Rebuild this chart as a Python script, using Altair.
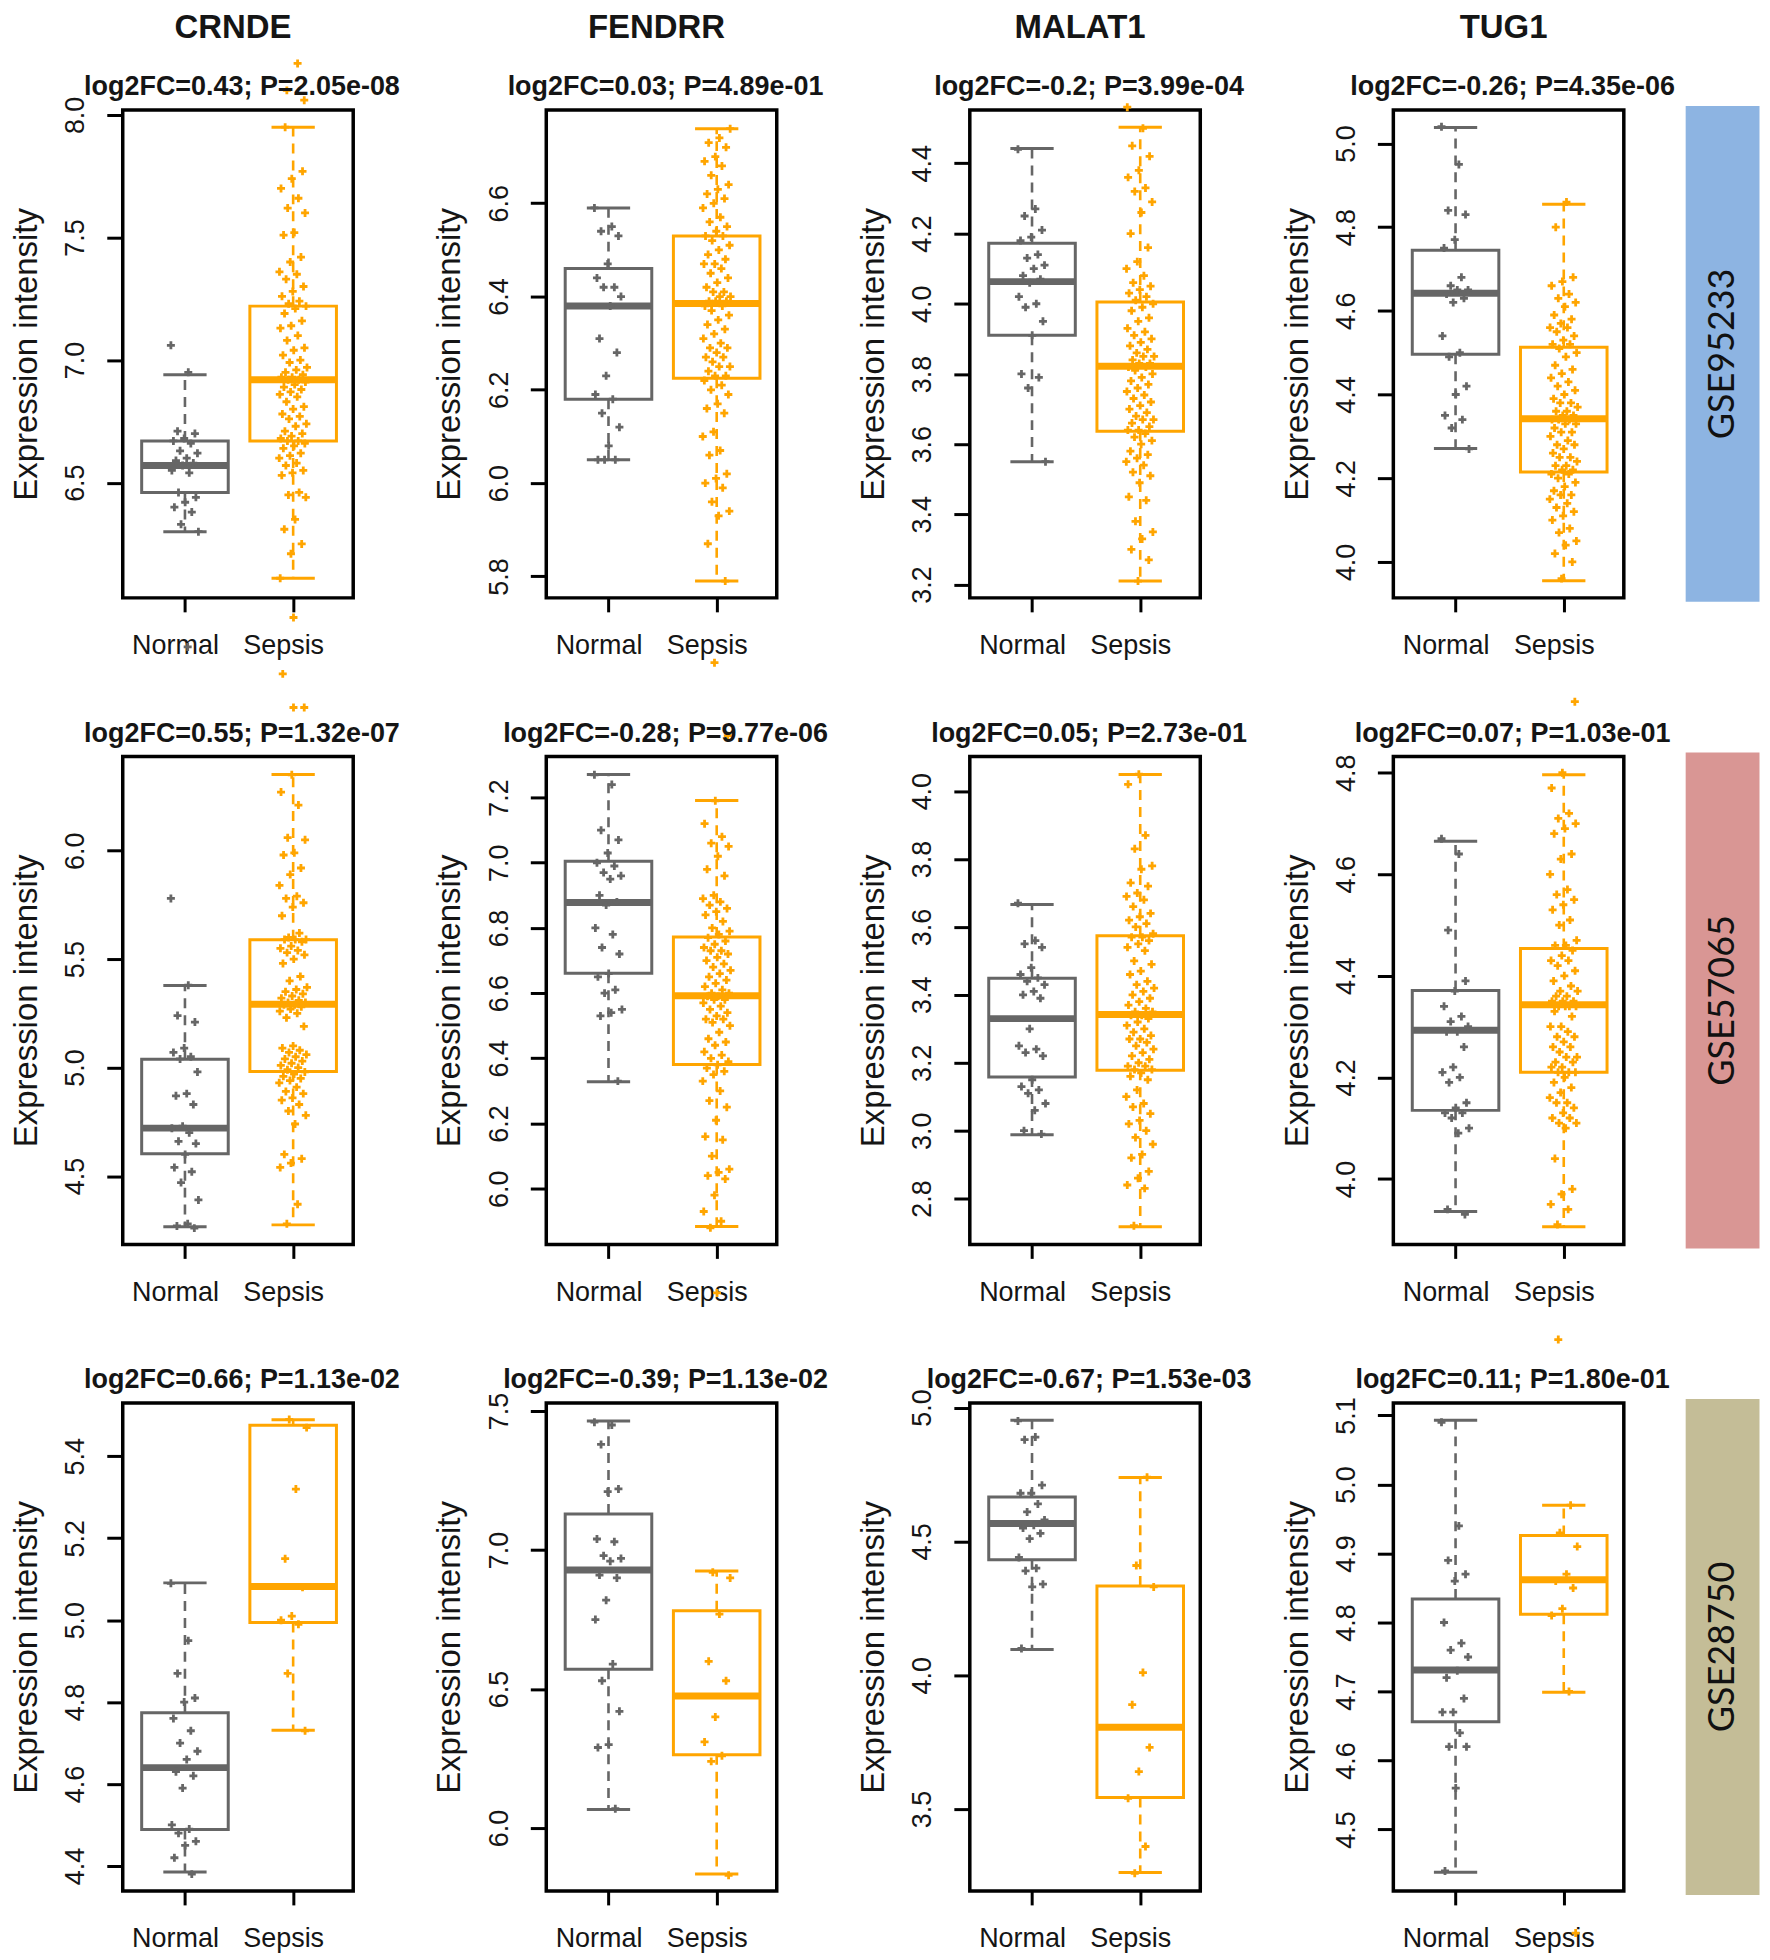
import altair as alt
import pandas as pd

genes = ["CRNDE", "FENDRR", "MALAT1", "TUG1"]
datasets = ["GSE95233", "GSE57065", "GSE28750"]
strip_colors = ["#8DB4E2", "#D99694", "#C4BD97"]
groups = ["Normal", "Sepsis"]
group_colors = ["#666666", "#FFA500"]

subtitles = [
    "log2FC=0.43; P=2.05e-08", "log2FC=0.03; P=4.89e-01", "log2FC=-0.2; P=3.99e-04", "log2FC=-0.26; P=4.35e-06",
    "log2FC=0.55; P=1.32e-07", "log2FC=-0.28; P=9.77e-06", "log2FC=0.05; P=2.73e-01", "log2FC=0.07; P=1.03e-01",
    "log2FC=0.66; P=1.13e-02", "log2FC=-0.39; P=1.13e-02", "log2FC=-0.67; P=1.53e-03", "log2FC=0.11; P=1.80e-01",
]

y_domains = [
    [6.03, 8.02], [5.754, 6.80], [3.162, 4.552], [3.914, 5.08],
    [4.185, 6.434], [5.829, 7.326], [2.665, 4.102], [3.871, 4.832],
    [4.339, 5.530], [5.774, 7.529], [3.194, 5.017], [4.411, 5.118],
]

y_ticks = [
    [6.5, 7.0, 7.5, 8.0], [5.8, 6.0, 6.2, 6.4, 6.6], [3.2, 3.4, 3.6, 3.8, 4.0, 4.2, 4.4], [4.0, 4.2, 4.4, 4.6, 4.8, 5.0],
    [4.5, 5.0, 5.5, 6.0], [6.0, 6.2, 6.4, 6.6, 6.8, 7.0, 7.2], [2.8, 3.0, 3.2, 3.4, 3.6, 3.8, 4.0], [4.0, 4.2, 4.4, 4.6, 4.8],
    [4.4, 4.6, 4.8, 5.0, 5.2, 5.4], [6.0, 6.5, 7.0, 7.5], [3.5, 4.0, 4.5, 5.0], [4.5, 4.6, 4.7, 4.8, 4.9, 5.0, 5.1],
]

# box statistics: [lower whisker, Q1, median, Q3, upper whisker]
normal_box = [
    [6.30, 6.46, 6.57, 6.67, 6.94], [6.05, 6.18, 6.38, 6.46, 6.59], [3.55, 3.91, 4.063, 4.172, 4.442], [4.271, 4.496, 4.642, 4.745, 5.038],
    [4.266, 4.603, 4.721, 5.039, 5.378], [6.328, 6.661, 6.878, 7.005, 7.271], [2.988, 3.158, 3.330, 3.449, 3.666], [3.936, 4.135, 4.293, 4.371, 4.665],
    [4.385, 4.489, 4.640, 4.774, 5.091], [6.067, 6.571, 6.928, 7.130, 7.464], [4.096, 4.431, 4.567, 4.666, 4.953], [4.438, 4.656, 4.731, 4.834, 5.093],
]
sepsis_box = [
    [6.11, 6.67, 6.92, 7.22, 7.95], [5.79, 6.225, 6.385, 6.53, 6.76], [3.21, 3.637, 3.822, 4.005, 4.503], [3.955, 4.215, 4.342, 4.513, 4.855],
    [4.275, 4.982, 5.292, 5.589, 6.351], [5.884, 6.381, 6.592, 6.772, 7.191], [2.717, 3.178, 3.342, 3.574, 4.049], [3.906, 4.210, 4.343, 4.454, 4.796],
    [4.731, 4.994, 5.082, 5.476, 5.489], [5.835, 6.264, 6.475, 6.782, 6.925], [3.263, 3.543, 3.806, 4.333, 4.739], [4.699, 4.812, 4.862, 4.926, 4.970],
]

normal_points = [
    [7.06, 6.95, 6.71, 6.70, 6.68, 6.67, 6.66, 6.63, 6.62, 6.60, 6.59, 6.58, 6.57, 6.55, 6.54, 6.46, 6.44, 6.42, 6.40, 6.38, 6.33, 6.30, 5.83],
    [6.59, 6.55, 6.54, 6.53, 6.47, 6.44, 6.42, 6.42, 6.40, 6.38, 6.31, 6.28, 6.23, 6.19, 6.18, 6.15, 6.12, 6.08, 6.05, 6.05, 6.05],
    [4.44, 4.27, 4.25, 4.21, 4.19, 4.18, 4.14, 4.13, 4.11, 4.10, 4.08, 4.07, 4.06, 4.02, 4.00, 3.99, 3.95, 3.91, 3.80, 3.79, 3.76, 3.55],
    [5.04, 4.95, 4.84, 4.83, 4.77, 4.75, 4.68, 4.66, 4.65, 4.65, 4.64, 4.63, 4.62, 4.54, 4.50, 4.49, 4.42, 4.40, 4.35, 4.34, 4.32, 4.27],
    [5.78, 5.38, 5.24, 5.21, 5.09, 5.07, 5.05, 5.04, 4.98, 4.88, 4.87, 4.83, 4.73, 4.72, 4.70, 4.66, 4.65, 4.60, 4.54, 4.52, 4.47, 4.39, 4.28, 4.27, 4.26],
    [7.27, 7.24, 7.10, 7.07, 7.03, 7.00, 6.99, 6.97, 6.96, 6.95, 6.90, 6.88, 6.87, 6.80, 6.78, 6.74, 6.72, 6.66, 6.65, 6.61, 6.60, 6.55, 6.54, 6.53, 6.33],
    [3.67, 3.56, 3.55, 3.54, 3.48, 3.46, 3.45, 3.44, 3.43, 3.41, 3.40, 3.39, 3.30, 3.25, 3.24, 3.23, 3.22, 3.15, 3.13, 3.12, 3.11, 3.08, 3.06, 3.00, 2.99],
    [4.67, 4.64, 4.49, 4.39, 4.37, 4.34, 4.32, 4.31, 4.30, 4.29, 4.29, 4.26, 4.22, 4.21, 4.20, 4.19, 4.15, 4.14, 4.13, 4.13, 4.12, 4.10, 4.09, 3.94, 3.93],
    [5.09, 4.95, 4.87, 4.81, 4.80, 4.76, 4.73, 4.70, 4.68, 4.66, 4.63, 4.62, 4.59, 4.50, 4.49, 4.48, 4.46, 4.45, 4.42, 4.38],
    [7.46, 7.45, 7.38, 7.22, 7.21, 7.04, 7.03, 6.98, 6.97, 6.96, 6.91, 6.90, 6.82, 6.75, 6.59, 6.53, 6.42, 6.30, 6.29, 6.07],
    [4.95, 4.89, 4.88, 4.71, 4.68, 4.68, 4.64, 4.61, 4.58, 4.56, 4.55, 4.53, 4.51, 4.44, 4.40, 4.39, 4.34, 4.33, 4.10],
    [5.09, 4.94, 4.89, 4.87, 4.86, 4.80, 4.77, 4.76, 4.75, 4.73, 4.72, 4.69, 4.67, 4.67, 4.64, 4.62, 4.62, 4.56, 4.44],
]

sepsis_points = [
    [7.95, 7.77, 7.74, 7.70, 7.66, 7.62, 7.60, 7.52, 7.51, 7.42, 7.40, 7.36, 7.35, 7.33, 7.30, 7.28, 7.26, 7.24, 7.23, 7.22,
     7.21, 7.19, 7.16, 7.14, 7.13, 7.10, 7.08, 7.05, 7.04, 7.02, 7.00, 6.99, 6.97, 6.96, 6.95, 6.94, 6.93, 6.93, 6.92, 6.92,
     6.91, 6.90, 6.89, 6.88, 6.87, 6.86, 6.85, 6.83, 6.81, 6.80, 6.78, 6.77, 6.76, 6.74, 6.73, 6.71, 6.70, 6.69, 6.68, 6.67,
     6.67, 6.66, 6.65, 6.64, 6.62, 6.61, 6.60, 6.58, 6.57, 6.55, 6.54, 6.53, 6.46, 6.45, 6.44, 6.35, 6.31, 6.25, 6.21, 6.11,
     8.21, 8.10, 8.06, 5.95, 5.72],
    [6.76, 6.74, 6.73, 6.72, 6.70, 6.69, 6.68, 6.66, 6.64, 6.63, 6.62, 6.61, 6.60, 6.59, 6.57, 6.56, 6.55, 6.54, 6.53, 6.53,
     6.52, 6.51, 6.50, 6.49, 6.48, 6.47, 6.47, 6.46, 6.45, 6.44, 6.43, 6.42, 6.41, 6.41, 6.40, 6.40, 6.39, 6.39, 6.39, 6.38,
     6.38, 6.37, 6.36, 6.35, 6.34, 6.33, 6.32, 6.31, 6.30, 6.29, 6.29, 6.28, 6.27, 6.27, 6.26, 6.25, 6.25, 6.24, 6.23, 6.23,
     6.22, 6.21, 6.20, 6.19, 6.17, 6.16, 6.15, 6.11, 6.10, 6.07, 6.06, 6.02, 6.01, 6.00, 5.99, 5.96, 5.94, 5.93, 5.87, 5.79,
     5.615],
    [4.50, 4.45, 4.42, 4.38, 4.36, 4.33, 4.32, 4.29, 4.26, 4.20, 4.16, 4.12, 4.10, 4.08, 4.06, 4.05, 4.04, 4.03, 4.02, 4.01,
     4.00, 3.99, 3.98, 3.96, 3.95, 3.93, 3.92, 3.91, 3.90, 3.89, 3.88, 3.87, 3.86, 3.85, 3.85, 3.84, 3.83, 3.83, 3.82, 3.82,
     3.81, 3.80, 3.79, 3.78, 3.77, 3.76, 3.75, 3.74, 3.73, 3.72, 3.71, 3.70, 3.69, 3.68, 3.67, 3.67, 3.66, 3.65, 3.64, 3.64,
     3.63, 3.62, 3.61, 3.60, 3.58, 3.57, 3.56, 3.55, 3.54, 3.52, 3.51, 3.49, 3.45, 3.44, 3.38, 3.35, 3.33, 3.30, 3.27, 3.21,
     4.56],
    [4.86, 4.80, 4.68, 4.67, 4.66, 4.64, 4.63, 4.62, 4.61, 4.59, 4.58, 4.57, 4.56, 4.56, 4.55, 4.54, 4.53, 4.52, 4.52, 4.51,
     4.50, 4.49, 4.47, 4.46, 4.45, 4.44, 4.43, 4.42, 4.41, 4.40, 4.39, 4.38, 4.38, 4.37, 4.36, 4.36, 4.35, 4.35, 4.34, 4.34,
     4.34, 4.33, 4.33, 4.32, 4.31, 4.31, 4.30, 4.29, 4.28, 4.28, 4.27, 4.26, 4.25, 4.25, 4.24, 4.23, 4.23, 4.22, 4.22, 4.21,
     4.21, 4.20, 4.19, 4.18, 4.17, 4.16, 4.16, 4.15, 4.14, 4.13, 4.12, 4.11, 4.10, 4.08, 4.07, 4.05, 4.04, 4.02, 4.00, 3.96],
    [6.35, 6.27, 6.21, 6.06, 6.05, 5.99, 5.98, 5.92, 5.89, 5.84, 5.79, 5.78, 5.76, 5.74, 5.70, 5.62, 5.60, 5.59, 5.59, 5.59,
     5.58, 5.56, 5.55, 5.54, 5.53, 5.52, 5.50, 5.48, 5.42, 5.40, 5.37, 5.36, 5.35, 5.34, 5.33, 5.32, 5.31, 5.30, 5.30, 5.29,
     5.29, 5.28, 5.27, 5.26, 5.25, 5.23, 5.19, 5.10, 5.09, 5.08, 5.07, 5.06, 5.05, 5.04, 5.03, 5.02, 5.01, 5.00, 4.99, 4.98,
     4.97, 4.96, 4.95, 4.94, 4.93, 4.91, 4.89, 4.88, 4.86, 4.85, 4.83, 4.80, 4.78, 4.74, 4.60, 4.58, 4.56, 4.54, 4.37, 4.28,
     6.66, 6.66],
    [7.19, 7.12, 7.08, 7.06, 7.05, 7.02, 6.98, 6.96, 6.90, 6.89, 6.88, 6.87, 6.86, 6.85, 6.84, 6.82, 6.80, 6.79, 6.78, 6.77,
     6.76, 6.75, 6.74, 6.73, 6.73, 6.72, 6.71, 6.70, 6.69, 6.68, 6.67, 6.66, 6.65, 6.64, 6.63, 6.62, 6.61, 6.60, 6.60, 6.59,
     6.59, 6.58, 6.58, 6.57, 6.56, 6.55, 6.54, 6.53, 6.52, 6.52, 6.51, 6.50, 6.48, 6.46, 6.45, 6.44, 6.42, 6.41, 6.40, 6.39,
     6.38, 6.37, 6.36, 6.35, 6.33, 6.30, 6.27, 6.25, 6.21, 6.16, 6.15, 6.10, 6.06, 6.05, 6.04, 6.03, 5.98, 5.93, 5.90, 5.88,
     7.39, 5.68],
    [4.05, 4.02, 3.87, 3.83, 3.78, 3.77, 3.73, 3.72, 3.70, 3.69, 3.68, 3.66, 3.64, 3.63, 3.62, 3.61, 3.60, 3.58, 3.57, 3.57,
     3.56, 3.55, 3.54, 3.53, 3.50, 3.49, 3.47, 3.46, 3.44, 3.43, 3.42, 3.41, 3.40, 3.39, 3.38, 3.37, 3.36, 3.35, 3.35, 3.34,
     3.34, 3.33, 3.32, 3.31, 3.30, 3.29, 3.28, 3.27, 3.27, 3.26, 3.25, 3.24, 3.23, 3.22, 3.21, 3.20, 3.19, 3.19, 3.18, 3.18,
     3.17, 3.16, 3.15, 3.12, 3.10, 3.08, 3.07, 3.05, 3.03, 3.02, 3.00, 2.98, 2.96, 2.93, 2.92, 2.88, 2.86, 2.84, 2.83, 2.72],
    [4.80, 4.77, 4.72, 4.71, 4.70, 4.69, 4.68, 4.64, 4.63, 4.60, 4.57, 4.56, 4.55, 4.54, 4.53, 4.51, 4.50, 4.47, 4.46, 4.46,
     4.45, 4.44, 4.43, 4.43, 4.42, 4.41, 4.40, 4.39, 4.38, 4.37, 4.37, 4.36, 4.36, 4.35, 4.35, 4.35, 4.34, 4.34, 4.34, 4.34,
     4.33, 4.32, 4.30, 4.30, 4.29, 4.28, 4.28, 4.27, 4.26, 4.26, 4.25, 4.24, 4.24, 4.23, 4.23, 4.22, 4.22, 4.21, 4.21, 4.21,
     4.20, 4.19, 4.18, 4.17, 4.16, 4.15, 4.15, 4.14, 4.13, 4.12, 4.12, 4.11, 4.11, 4.10, 4.04, 3.98, 3.97, 3.95, 3.94, 3.91,
     4.94],
    [5.49, 5.47, 5.32, 5.15, 5.08, 5.01, 5.00, 4.99, 4.87, 4.73],
    [6.92, 6.90, 6.77, 6.60, 6.53, 6.40, 6.31, 6.26, 6.24, 5.83],
    [4.74, 4.41, 4.33, 4.01, 3.89, 3.73, 3.64, 3.54, 3.36, 3.26],
    [4.97, 4.93, 4.91, 4.87, 4.86, 4.85, 4.82, 4.81, 4.70, 5.21, 4.35],
]

W, H = 231, 489
FONT = "Liberation Sans"
TXT = "#151515"


def make_panel(r, c):
    k = r * 4 + c
    box_df = pd.DataFrame({
        "group": groups,
        "pos": [1, 2],
        "lo": [normal_box[k][0], sepsis_box[k][0]],
        "q1": [normal_box[k][1], sepsis_box[k][1]],
        "med": [normal_box[k][2], sepsis_box[k][2]],
        "q3": [normal_box[k][3], sepsis_box[k][3]],
        "hi": [normal_box[k][4], sepsis_box[k][4]],
    })
    npts, spts = normal_points[k], sepsis_points[k]
    pts_df = pd.DataFrame({
        "group": ["Normal"] * len(npts) + ["Sepsis"] * len(spts),
        "pos": [1] * len(npts) + [2] * len(spts),
        "value": npts + spts,
        "idx": list(range(len(npts) + len(spts))),
    })

    xs = alt.Scale(domain=[0.425, 2.555], nice=False, zero=False)
    ys = alt.Scale(domain=y_domains[k], nice=False, zero=False)
    cs = alt.Scale(domain=groups, range=group_colors)

    xaxis = alt.Axis(values=[1, 2], labelExpr="datum.value == 1 ? 'Normal' : 'Sepsis'", title=None,
                     tickSize=14, labelPadding=34, labelBaseline="middle", labelOffset=-10,
                     labelFlush=False, labelOverlap=False)
    yaxis = alt.Axis(values=y_ticks[k], format=".1f", title="Expression intensity",
                     tickSize=16, labelAngle=270, labelAlign="center", labelBaseline="bottom",
                     labelPadding=17, labelOverlap=False, labelFlush=False,
                     titleAngle=270, titleX=-96.5, titleY=H / 2, titleAlign="center", titleBaseline="middle")

    def X(f):
        return alt.X(f, type="quantitative", scale=xs, axis=xaxis)

    def Y(f):
        return alt.Y(f, type="quantitative", scale=ys, axis=yaxis)

    col = alt.Color("group:N", scale=cs, legend=None)

    base = alt.Chart(box_df).transform_calculate(
        bx1="datum.pos - 0.4", bx2="datum.pos + 0.4",
        cx1="datum.pos - 0.2", cx2="datum.pos + 0.2")

    rect = base.mark_rect(fill="white", strokeWidth=3).encode(
        x=X("bx1"), x2="bx2:Q", y=Y("q1"), y2="q3:Q",
        stroke=alt.Stroke("group:N", scale=cs, legend=None))
    wh_hi = base.mark_rule(strokeWidth=2.6, strokeDash=[10, 7]).encode(x=X("pos"), y=Y("q3"), y2="hi:Q", color=col)
    wh_lo = base.mark_rule(strokeWidth=2.6, strokeDash=[10, 7]).encode(x=X("pos"), y=Y("q1"), y2="lo:Q", color=col)
    cap_hi = base.mark_rule(strokeWidth=3).encode(x=X("cx1"), x2="cx2:Q", y=Y("hi"), color=col)
    cap_lo = base.mark_rule(strokeWidth=3).encode(x=X("cx1"), x2="cx2:Q", y=Y("lo"), color=col)
    med = base.mark_rule(strokeWidth=7).encode(x=X("bx1"), x2="bx2:Q", y=Y("med"), color=col)

    pts = alt.Chart(pts_df).transform_calculate(
        jx="datum.pos + ((datum.idx * 0.6180339887) % 1 - 0.5) * 0.26"
    ).mark_point(shape="M-1,0L1,0M0,-1L0,1", filled=False, size=64, strokeWidth=2.8, opacity=1).encode(
        x=X("jx"), y=Y("value"), color=col)

    layers = [rect, wh_hi, wh_lo, cap_hi, cap_lo, med, pts]

    tdf = pd.DataFrame({"sub": [subtitles[k]], "gene": [genes[c]], "label": [datasets[r]]})
    sub_text = alt.Chart(tdf).mark_text(fontSize=27, font=FONT, fontWeight="bold", color=TXT,
                                        align="center", baseline="middle").encode(
        x=alt.value(W / 2 + 4), y=alt.value(-23), text="sub:N")
    layers.append(sub_text)

    if r == 0:
        head_text = alt.Chart(tdf).mark_text(fontSize=33, font=FONT, fontWeight="bold", color=TXT,
                                             align="center", baseline="middle").encode(
            x=alt.value(W / 2 - 5), y=alt.value(-82), text="gene:N")
        layers.append(head_text)

    if c == 3:
        strip = alt.Chart(tdf).mark_rect(fill=strip_colors[r]).encode(
            x=alt.value(293), x2=alt.value(367), y=alt.value(-4), y2=alt.value(H + 4))
        stext = alt.Chart(tdf).mark_text(angle=270, fontSize=36, font="Lato", color="#111111",
                                         align="center", baseline="middle").encode(
            x=alt.value(330), y=alt.value(H / 2), text="label:N")
        layers += [strip, stext]

    return alt.layer(*layers).properties(width=W, height=H)


panels = [make_panel(r, c) for r in range(3) for c in range(4)]
chart = alt.concat(*panels, columns=4, spacing={"row": 159, "column": 193.5}, bounds="flush").properties(
    padding={"left": 0, "top": 0, "right": 0, "bottom": 0}
).configure_view(
    stroke="black", strokeWidth=3.5
).configure_axis(
    domain=False, grid=False, tickColor="black", tickWidth=3,
    labelFont=FONT, labelFontSize=27, labelColor=TXT,
    titleFont=FONT, titleFontSize=33, titleFontWeight="normal", titleColor=TXT
)

chart.save("out.html", embed_options={"renderer": "svg", "actions": False})
